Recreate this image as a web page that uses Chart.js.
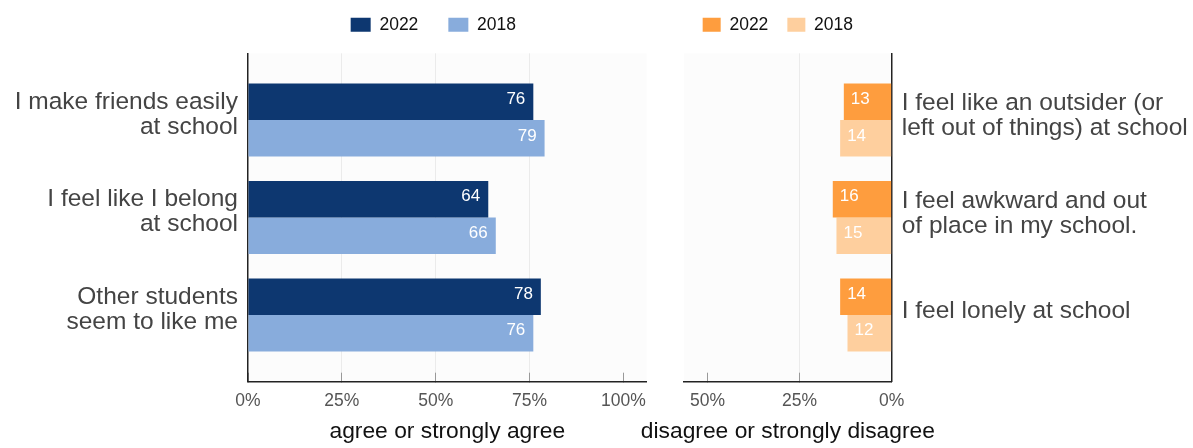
<!DOCTYPE html>
<html>
<head>
<meta charset="utf-8">
<script src="https://cdn.jsdelivr.net/npm/chart.js@4.4.1/dist/chart.umd.min.js"></script>
<style>
  html, body { margin: 0; padding: 0; background: #fff; overflow: hidden; width: 1193px; height: 448px; position: relative; }
  canvas { position: absolute; }
  #agreeChart { left: 0; top: -14px; }
  #disagreeChart { left: 620px; top: -3px; }
</style>
</head>
<body>
<canvas id="agreeChart" width="680" height="470"></canvas>
<canvas id="disagreeChart" width="573" height="461"></canvas>
<script>
// Data
const agreeLabels = [
  ['I make friends easily', 'at school'],
  ['I feel like I belong', 'at school'],
  ['Other students', 'seem to like me']
];
const agree2022 = [76, 64, 78];
const agree2018 = [79, 66, 76];

const disagreeLabels = [
  ['I feel like an outsider (or', 'left out of things) at school'],
  ['I feel awkward and out', 'of place in my school.'],
  ['I feel lonely at school']
];
const disagree2022 = [13, 16, 14];
const disagree2018 = [14, 15, 12];

const agreeTicks = [0, 25, 50, 75, 100];
const disagreeTicks = [0, 25, 50];

const FONT = "'Liberation Sans', Arial, Helvetica, sans-serif";
Chart.defaults.font.family = FONT;

// light plot background
const plotBg = {
  id: 'plotBg',
  beforeDraw(chart) {
    const { ctx, chartArea: a } = chart;
    ctx.save();
    ctx.fillStyle = '#fcfcfc';
    ctx.fillRect(a.left, a.top, a.width, a.height);
    ctx.restore();
  }
};

// white numbers inside the bar ends
const valueLabels = {
  id: 'valueLabels',
  afterDatasetsDraw(chart, args, o) {
    const ctx = chart.ctx;
    ctx.save();
    ctx.font = '17px ' + FONT;
    ctx.fillStyle = '#fff';
    ctx.textBaseline = 'middle';
    ctx.textAlign = o.side === 'left' ? 'right' : 'left';
    chart.data.datasets.forEach((ds, i) => {
      chart.getDatasetMeta(i).data.forEach((bar, j) => {
        const x = o.side === 'left' ? bar.x - 8 : bar.x + 7;
        ctx.fillText(ds.data[j].x, x, bar.y - 2.5);
      });
    });
    ctx.restore();
  }
};

// axis caption under the plot, not squeezed to the axis width
const axisCaption = {
  id: 'axisCaption',
  afterDraw(chart, args, o) {
    const { ctx, chartArea: a } = chart;
    ctx.save();
    ctx.font = '22.8px ' + FONT;
    ctx.fillStyle = '#111';
    ctx.textAlign = 'center';
    ctx.textBaseline = 'middle';
    ctx.fillText(o.text, (a.left + a.right) / 2, a.bottom + 50.3);
    ctx.restore();
  }
};

// legend box: fixed height, nudged sideways like the reference
const legendPlace = {
  id: 'legendPlace',
  afterInit(chart, args, o) {
    const legend = chart.legend;
    const fit = legend.fit;
    legend.fit = function () { fit.call(this); this.height = o.height; };
  },
  afterLayout(chart, args, o) {
    chart.legend.left += o.dx;
    chart.legend.right += o.dx;
  }
};

function makeChart(id, cfg) {
  const ds = (label, values, color) => ({
    label,
    data: values.map((v, i) => ({ x: v, y: i })),
    backgroundColor: color,
    borderWidth: 0,
    categoryPercentage: 0.75,
    barPercentage: 1
  });
  return new Chart(document.getElementById(id), {
    type: 'bar',
    data: {
      datasets: [
        ds('2022', cfg.v2022, cfg.colors[0]),
        ds('2018', cfg.v2018, cfg.colors[1])
      ]
    },
    options: {
      indexAxis: 'y',
      responsive: false,
      animation: false,
      events: [],
      layout: { padding: cfg.padding },
      plugins: {
        legend: {
          fullSize: false,
          align: 'center',
          labels: { boxWidth: cfg.boxWidth, boxHeight: 14, padding: cfg.legendGap, color: '#111', font: { size: 17.5 } }
        },
        tooltip: { enabled: false },
        legendPlace: { height: cfg.legendH, dx: cfg.legendDx },
        valueLabels: { side: cfg.side },
        axisCaption: { text: cfg.title }
      },
      scales: {
        x: {
          type: 'linear',
          min: 0,
          max: cfg.max,
          reverse: cfg.reverse,
          afterBuildTicks: s => { s.ticks = cfg.ticks.map(v => ({ value: v })); },
          afterFit: s => { s.height = 64; },
          grid: {
            color: c => (c.tick && cfg.grid.includes(c.tick.value)) ? '#ebebeb' : 'rgba(0,0,0,0)',
            tickColor: '#999',
            tickLength: -9,
            lineWidth: 1
          },
          border: { color: '#222', width: 1.5 },
          ticks: { color: '#555', font: { size: 17.5 }, padding: 17.8, callback: v => v + '%' }
        },
        y: {
          type: 'linear',
          offset: false,
          bounds: 'data',
          min: -0.685,
          max: 2.685,
          reverse: true,
          position: cfg.yPos,
          afterBuildTicks: s => { s.ticks = cfg.labels.map((l, i) => ({ value: i })); },
          afterFit: s => { s.width = cfg.yWidth; },
          grid: { display: false, drawTicks: false, offset: false },
          border: { color: '#222', width: 1.5 },
          ticks: {
            autoSkip: false,
            color: '#444',
            font: { size: 24.5, lineHeight: 1.02 },
            padding: 10,
            labelOffset: cfg.labelOffset,
            callback: v => cfg.labels[v]
          }
        }
      }
    },
    plugins: [plotBg, valueLabels, axisCaption, legendPlace]
  });
}

makeChart('agreeChart', {
  labels: agreeLabels,
  v2022: agree2022,
  v2018: agree2018,
  colors: ['#0d3770', '#88acdc'],
  ticks: agreeTicks,
  grid: [25, 50, 75],
  max: 106.2,
  reverse: false,
  yPos: 'left',
  yWidth: 248,
  padding: { left: 0, right: 33.3, top: 0, bottom: 10.3 },
  legendGap: 30,
  legendDx: -14,
  boxWidth: 20,
  legendH: 67.3,
  side: 'left',
  labelOffset: -5.5,
  title: 'agree or strongly agree'
});

makeChart('disagreeChart', {
  labels: disagreeLabels,
  v2022: disagree2022,
  v2018: disagree2018,
  colors: ['#fe9d3e', '#fecf9e'],
  ticks: disagreeTicks,
  grid: [25],
  max: 56.4,
  reverse: true,
  yPos: 'right',
  yWidth: 301.3,
  padding: { left: 64, right: 0, top: 0, bottom: 12.3 },
  legendGap: 19,
  legendDx: -10,
  boxWidth: 18,
  legendH: 56.3,
  side: 'right',
  labelOffset: -4,
  title: 'disagree or strongly disagree'
});
</script>
</body>
</html>
